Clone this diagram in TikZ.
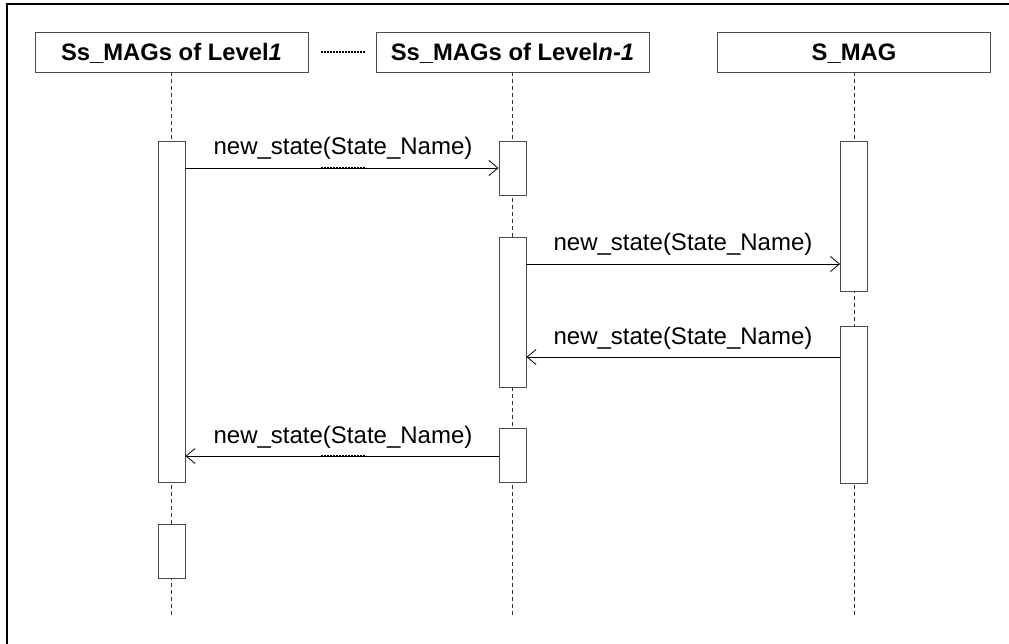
\documentclass[tikz,border=0pt]{standalone}
\usepackage{fontspec}
\setmainfont{Liberation Sans}
\usetikzlibrary{arrows.meta}
\begin{document}
\begin{tikzpicture}[x=1pt,y=-1pt,
  head/.style={draw=black!70, line width=0.9pt, fill=white, minimum width=273pt,
    minimum height=40pt, inner sep=0pt, text height=17pt, text depth=0pt,
    font=\fontsize{23.8}{28}\selectfont\bfseries},
  act/.style={draw=black!70, line width=0.9pt, fill=white, minimum width=27pt,
    inner sep=0pt, anchor=north},
  life/.style={draw=black!80, line width=0.8pt, dash pattern=on 4pt off 3pt},
  msg/.style={draw=black, line width=0.8pt,
    -{Straight Barb[length=9pt,width=15pt,line width=0.8pt]}},
  lbl/.style={font=\fontsize{24}{28}\selectfont, inner sep=0pt, anchor=base},
  elide/.style={draw=black, line width=1.5pt, dash pattern=on 1.6pt off 1.4pt},
  frame/.style={draw=black, line width=1.5pt}]
\useasboundingbox (0,0) rectangle (1009,644);
% outer frame (left and top edges)
\draw[frame] (7,644) -- (7,4) -- (1009,4);
% headers
\node[head] (h1) at (171.5,52) {Ss\_MAGs of Level\textit{1}};
\node[head] (h2) at (512.5,52) {Ss\_MAGs of Level\textit{n-1}};
\node[head] (h3) at (854,52) {S\_MAG};
\draw[elide] (321,52) -- (365,52);
% lifeline ends
\coordinate (e1) at (171.5,618);
\coordinate (e2) at (512.5,618);
\coordinate (e3) at (854,618);
\draw[life] (h1.south) -- (e1);
\draw[life] (h2.south) -- (e2);
\draw[life] (h3.south) -- (e3);
% activations
\node[act, minimum height=341pt] (a1) at (171.5,141) {};
\node[act, minimum height=54pt]  (a2) at (171.5,524) {};
\node[act, minimum height=54pt]  (b1) at (512.5,141) {};
\node[act, minimum height=150pt] (b2) at (512.5,237) {};
\node[act, minimum height=54pt]  (b3) at (512.5,428) {};
\node[act, minimum height=150pt] (c1) at (854,141) {};
\node[act, minimum height=157pt] (c2) at (854,326) {};
% messages
\draw[msg] (a1.east |- 0,168) -- (b1.west |- 0,168);
\draw[elide] (321,168) -- (366,168);
\node[lbl] (l1) at (343,155) {new\_state(State\_Name)};
\draw[msg] (b2.east |- 0,264) -- (c1.west |- 0,264);
\node[lbl] (l2) at (683,251) {new\_state(State\_Name)};
\draw[msg] (c2.west |- 0,357) -- (b2.east |- 0,357);
\node[lbl] (l3) at (683,344) {new\_state(State\_Name)};
\draw[msg] (b3.west |- 0,456) -- (a1.east |- 0,456);
\draw[elide] (321,456) -- (366,456);
\node[lbl] (l4) at (343,443) {new\_state(State\_Name)};
\end{tikzpicture}
\end{document}
